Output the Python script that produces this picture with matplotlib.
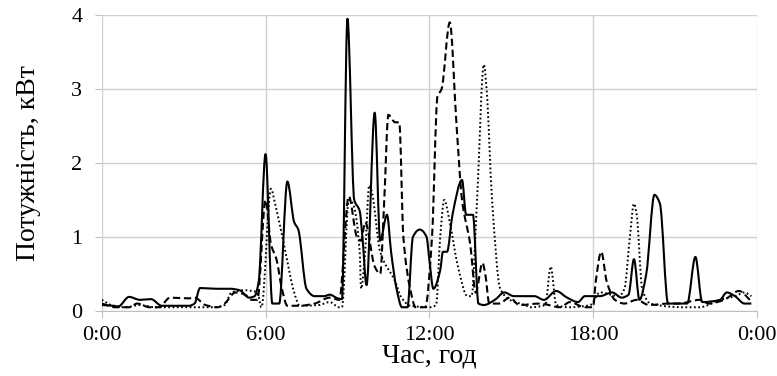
import matplotlib
matplotlib.use("Agg")
from matplotlib import pyplot as plt
from matplotlib.path import Path
from matplotlib.patches import PathPatch

plt.rcParams['font.family'] = ['Liberation Serif', 'DejaVu Serif']

# hours of the day and power, kW
t_solid = [0.0, 0.4, 0.6, 1.0, 1.4, 1.8, 2.2, 2.8, 3.2, 3.4, 3.6, 4.2, 4.7, 5.05, 5.4, 5.6,
           5.75, 6.0, 6.25, 6.5, 6.8, 7.05, 7.2, 7.5, 7.8, 8.15, 8.35, 8.65, 8.8, 9.0, 9.25,
           9.45, 9.55, 9.7, 10.0, 10.2, 10.45, 10.6, 10.8, 11.0, 11.2, 11.4, 11.65, 11.9,
           12.0, 12.15, 12.4, 12.5, 12.65, 12.85, 13.2, 13.35, 13.6, 13.8, 14.0, 14.4, 14.75,
           15.1, 15.85, 16.2, 16.65, 17.05, 17.45, 17.7, 18.25, 18.7, 19.05, 19.3, 19.5,
           19.7, 19.95, 20.25, 20.45, 20.75, 21.45, 21.75, 22.0, 22.65, 22.9, 23.2, 23.55,
           23.8]
p_solid = [0.08, 0.07, 0.06, 0.19, 0.15, 0.16, 0.07, 0.07, 0.07, 0.1, 0.31, 0.3, 0.3, 0.28,
           0.18, 0.2, 0.4, 2.12, 0.1, 0.1, 1.75, 1.2, 1.1, 0.3, 0.2, 0.2, 0.22, 0.17, 0.16,
           3.95, 1.5, 1.35, 1.0, 0.35, 2.68, 0.95, 1.3, 0.8, 0.3, 0.05, 0.05, 1.0, 1.1, 1.0,
           0.7, 0.3, 0.55, 0.8, 0.8, 1.3, 1.77, 1.3, 1.3, 0.1, 0.08, 0.15, 0.25, 0.2, 0.2,
           0.15, 0.27, 0.18, 0.12, 0.2, 0.2, 0.25, 0.18, 0.22, 0.7, 0.15, 0.5, 1.57, 1.45,
           0.1, 0.1, 0.73, 0.12, 0.15, 0.25, 0.2, 0.1, 0.1]

t_dash = [0.0, 0.5, 1.0, 1.3, 1.75, 2.1, 2.5, 3.2, 3.4, 3.8, 4.25, 4.5, 4.9, 5.25, 5.5,
          5.7, 6.0, 6.2, 6.4, 6.6, 6.8, 7.25, 7.8, 8.35, 8.7, 9.05, 9.35, 9.5, 9.65, 10.0,
          10.2, 10.35, 10.5, 10.75, 10.9, 11.05, 11.3, 11.5, 11.85, 12.1, 12.3, 12.45,
          12.75, 13.0, 13.2, 13.5, 13.7, 13.95, 14.05, 14.2, 14.55, 14.95, 15.3, 16.05,
          16.8, 17.15, 17.7, 18.0, 18.1, 18.3, 18.5, 18.8, 19.15, 19.6, 20.05, 20.8, 21.15,
          21.9, 22.25, 22.8, 23.35, 23.8]
p_dash = [0.1, 0.05, 0.05, 0.1, 0.05, 0.05, 0.18, 0.17, 0.18, 0.08, 0.05, 0.1, 0.25, 0.22,
          0.15, 0.15, 1.5, 0.9, 0.7, 0.3, 0.07, 0.07, 0.1, 0.18, 0.15, 1.55, 1.0, 0.95, 1.2,
          0.6, 0.5, 1.5, 2.65, 2.55, 2.55, 1.0, 0.3, 0.05, 0.05, 1.0, 2.9, 3.0, 3.9, 2.5,
          1.5, 0.9, 0.25, 0.65, 0.5, 0.1, 0.1, 0.18, 0.08, 0.1, 0.05, 0.12, 0.05, 0.05,
          0.4, 0.8, 0.4, 0.15, 0.1, 0.15, 0.08, 0.1, 0.1, 0.15, 0.1, 0.15, 0.27, 0.13]

t_dot = [0.0, 0.35, 0.85, 1.4, 1.95, 2.85, 3.6, 4.15, 4.5, 4.75, 5.25, 5.7, 5.85, 6.2,
         6.35, 6.7, 7.05, 7.25, 7.95, 8.35, 8.7, 8.8, 9.05, 9.2, 9.45, 9.5, 9.65, 9.8, 9.9,
         10.2, 10.75, 10.95, 11.3, 12.0, 12.25, 12.4, 12.55, 12.75, 13.05, 13.4, 13.55,
         13.75, 14.0, 14.1, 14.3, 14.6, 14.95, 15.5, 15.7, 16.25, 16.45, 16.65, 17.15,
         17.9, 18.25, 18.95, 19.15, 19.35, 19.5, 19.6, 19.8, 20.1, 21.35, 21.9, 22.65,
         23.2, 23.55, 23.8]
p_dot = [0.15, 0.08, 0.05, 0.08, 0.05, 0.05, 0.05, 0.05, 0.08, 0.25, 0.28, 0.25, 0.05,
         1.65, 1.45, 0.85, 0.25, 0.07, 0.08, 0.12, 0.05, 0.05, 1.5, 1.45, 0.8, 0.3, 0.8,
         1.7, 1.6, 0.8, 0.4, 0.2, 0.07, 0.05, 0.08, 1.0, 1.5, 1.2, 0.6, 0.2, 0.2, 1.5, 3.33,
         3.0, 1.5, 0.3, 0.15, 0.08, 0.05, 0.08, 0.6, 0.08, 0.05, 0.08, 0.25, 0.2, 0.3, 1.0,
         1.45, 1.3, 0.3, 0.1, 0.05, 0.05, 0.15, 0.2, 0.25, 0.2]

x_ticks = [0, 6, 12, 18, 24]
x_labels = ['0:00', '6:00', '12:00', '18:00', '0:00']


def smooth_line(ax, xs, ys, **kw):
    # smoothed line through the points: cubic Bezier segments with monotone tangents
    n = len(xs)
    h = [xs[i + 1] - xs[i] for i in range(n - 1)]
    d = [(ys[i + 1] - ys[i]) / h[i] for i in range(n - 1)]
    m = [d[0]] + [0.0] * (n - 2) + [d[-1]]
    for i in range(1, n - 1):
        if d[i - 1] * d[i] > 0:
            w1 = 2 * h[i] + h[i - 1]
            w2 = h[i] + 2 * h[i - 1]
            m[i] = (w1 + w2) / (w1 / d[i - 1] + w2 / d[i])
    verts = [(xs[0], ys[0])]
    codes = [Path.MOVETO]
    for i in range(n - 1):
        verts += [(xs[i] + h[i] / 3, ys[i] + m[i] * h[i] / 3),
                  (xs[i + 1] - h[i] / 3, ys[i + 1] - m[i + 1] * h[i] / 3),
                  (xs[i + 1], ys[i + 1])]
        codes += [Path.CURVE4] * 3
    ax.add_patch(PathPatch(Path(verts, codes), fill=False, **kw))


fig = plt.figure(figsize=(7.77, 3.76), dpi=100)
ax = fig.add_axes([0.131, 0.173, 0.843, 0.787])

smooth_line(ax, t_solid, p_solid, edgecolor='black', lw=1.5, joinstyle='round')
smooth_line(ax, t_dash, p_dash, edgecolor='black', lw=1.5, linestyle=(0, (3.5, 1.8)))
smooth_line(ax, t_dot, p_dot, edgecolor='black', lw=1.4, linestyle=(0, (0.9, 1.3)))

ax.set_xlim(0, 24)
ax.set_ylim(0, 4)
ax.set_xticks(x_ticks)
ax.set_xticklabels(x_labels)
ax.set_yticks([0, 1, 2, 3, 4])
ax.grid(True, color='#d0d0d0', lw=1)
ax.set_axisbelow(True)
for side in ['top', 'right', 'left']:
    ax.spines[side].set_visible(False)
ax.spines['bottom'].set_color('#bfbfbf')
ax.tick_params(axis='both', colors='#bfbfbf', labelcolor='black', labelsize=16, length=5)
ax.tick_params(axis='y', pad=9)
ax.tick_params(axis='x', pad=6)

ax.set_xlabel('Час, год', fontsize=20, labelpad=-1)
ax.set_ylabel('Потужність, кВт', fontsize=20, labelpad=22)

fig.savefig('out.png', dpi=100)
